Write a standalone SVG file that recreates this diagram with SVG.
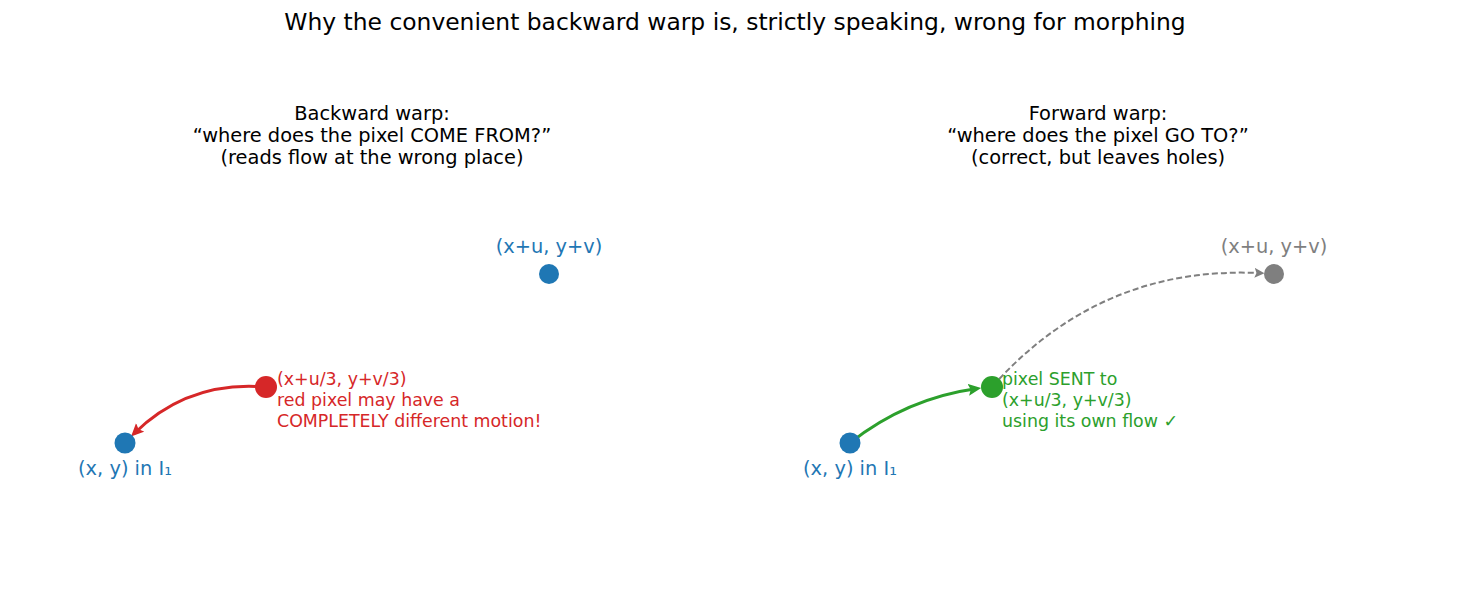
<svg xmlns="http://www.w3.org/2000/svg" width="1470" height="616" viewBox="0 0 1470 616">
<style>
text{font-family:"DejaVu Sans",sans-serif}
.title{font-size:23.4px;fill:#000;text-anchor:middle}
.sub{font-size:19.4px;fill:#000;text-anchor:middle}
.lab{font-size:19.4px;text-anchor:middle}
.note{font-size:17.4px}
.blue{fill:#1f77b4}.red{fill:#d62728}.green{fill:#2ca02c}.gray{fill:#7f7f7f}
.conn{fill:none}
</style>
<defs>
<marker id="ahRed" markerUnits="userSpaceOnUse" markerWidth="16" markerHeight="14" refX="9" refY="6" orient="auto"><path d="M0,0 L13,6 L0,12 L2.5,6 z" fill="#d62728"/></marker>
<marker id="ahGreen" markerUnits="userSpaceOnUse" markerWidth="16" markerHeight="14" refX="9" refY="6" orient="auto"><path d="M0,0 L13,6 L0,12 L2.5,6 z" fill="#2ca02c"/></marker>
<marker id="ahGray" markerUnits="userSpaceOnUse" markerWidth="14" markerHeight="12" refX="6" refY="5" orient="auto"><path d="M0,0 L10,5 L0,10 L2,5 z" fill="#7f7f7f"/></marker>
</defs>
<rect width="1470" height="616" fill="#fff"/>
<text class="title" x="735" y="30">Why the convenient backward warp is, strictly speaking, wrong for morphing</text>
<g id="left-heading">
<text class="sub" x="372" y="120">Backward warp:</text>
<text class="sub" x="372" y="142">“where does the pixel COME FROM?”</text>
<text class="sub" x="372" y="164">(reads flow at the wrong place)</text>
</g>
<g id="right-heading">
<text class="sub" x="1098" y="120">Forward warp:</text>
<text class="sub" x="1098" y="142">“where does the pixel GO TO?”</text>
<text class="sub" x="1098" y="164">(correct, but leaves holes)</text>
</g>
<g id="connectors">
<path class="conn" d="M266 387 Q188 380.3 133.9 433.7" stroke="#d62728" stroke-width="3" marker-end="url(#ahRed)"/>
<path class="conn" d="M850 443 Q906.7 398.3 977.2 388.6" stroke="#2ca02c" stroke-width="3" marker-end="url(#ahGreen)"/>
<path class="conn" d="M999.2 379 Q1105.6 265.4 1260.5 273.1" stroke="#7f7f7f" stroke-width="2" stroke-dasharray="6,3" marker-end="url(#ahGray)"/>
</g>
<g id="left-source">
<circle cx="125" cy="443" r="10.5" class="blue"/>
<text class="lab blue" x="125" y="475">(x, y) in I₁</text>
</g>
<g id="left-target">
<circle cx="549" cy="274" r="10" class="blue"/>
<text class="lab blue" x="549" y="253">(x+u, y+v)</text>
</g>
<g id="left-red-pixel">
<circle cx="266" cy="387" r="11" class="red"/>
<text class="note red" x="277" y="385">(x+u/3, y+v/3)</text>
<text class="note red" x="277" y="406">red pixel may have a</text>
<text class="note red" x="277" y="427">COMPLETELY different motion!</text>
</g>
<g id="right-source">
<circle cx="850" cy="443" r="10.5" class="blue"/>
<text class="lab blue" x="850" y="475">(x, y) in I₁</text>
</g>
<g id="right-green-pixel">
<circle cx="992" cy="387" r="11" class="green"/>
<text class="note green" x="1002" y="385">pixel SENT to</text>
<text class="note green" x="1002" y="406">(x+u/3, y+v/3)</text>
<text class="note green" x="1002" y="427">using its own flow ✓</text>
</g>
<g id="right-target">
<circle cx="1274" cy="274" r="10" class="gray"/>
<text class="lab gray" x="1274" y="253">(x+u, y+v)</text>
</g>
</svg>
